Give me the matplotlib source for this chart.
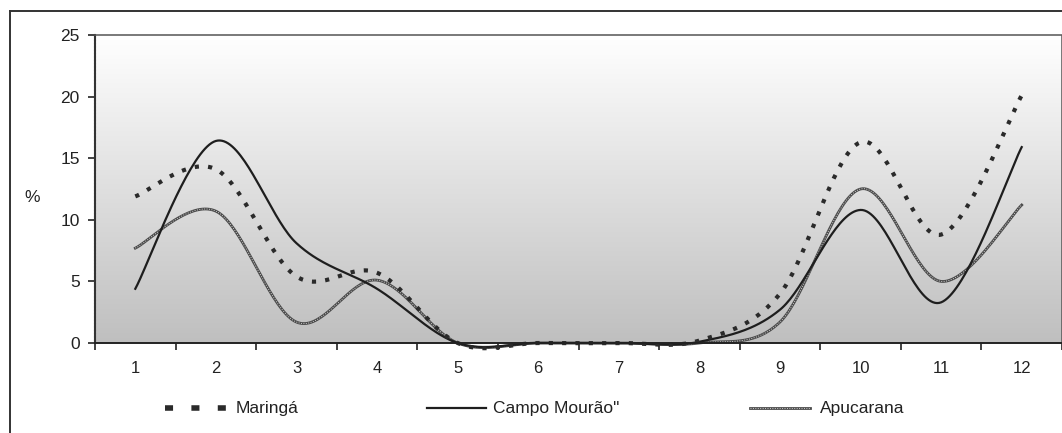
import numpy as np
import matplotlib
matplotlib.use("Agg")
import matplotlib.pyplot as plt
from matplotlib.lines import Line2D

plt.rcParams['font.family'] = ['Liberation Sans', 'DejaVu Sans']

months = [1, 2, 3, 4, 5, 6, 7, 8, 9, 10, 11, 12]
month_labels = ['1', '2', '3', '4', '5', '6', '7', '8', '9', '10', '11', '12']
maringa = [11.9, 14.1, 5.4, 5.7, 0.0, 0.0, 0.0, 0.2, 4.0, 16.3, 8.8, 20.1]
campo_mourao = [4.4, 16.4, 8.1, 4.4, 0.0, 0.0, 0.0, 0.1, 2.7, 10.8, 3.3, 15.9]
apucarana = [7.7, 10.7, 1.7, 5.1, 0.0, 0.0, 0.0, 0.0, 1.7, 12.5, 5.0, 11.2]
series_names = ['Maringá', 'Campo Mourão"', 'Apucarana']
y_ticks = [0, 5, 10, 15, 20, 25]


def smooth(x, y, n=40):
    """Catmull-Rom smoothing similar to Excel's smoothed line."""
    x = np.asarray(x, float)
    y = np.asarray(y, float)
    px = np.concatenate([[x[0]], x, [x[-1]]])
    py = np.concatenate([[y[0]], y, [y[-1]]])
    xs, ys = [], []
    t = np.linspace(0, 1, n)
    for i in range(1, len(px) - 2):
        p0x, p1x, p2x, p3x = px[i - 1], px[i], px[i + 1], px[i + 2]
        p0y, p1y, p2y, p3y = py[i - 1], py[i], py[i + 1], py[i + 2]
        c1x = p1x + (p2x - p0x) / 6
        c2x = p2x - (p3x - p1x) / 6
        c1y = p1y + (p2y - p0y) / 6
        c2y = p2y - (p3y - p1y) / 6
        bx = (1 - t) ** 3 * p1x + 3 * (1 - t) ** 2 * t * c1x + 3 * (1 - t) * t ** 2 * c2x + t ** 3 * p2x
        by = (1 - t) ** 3 * p1y + 3 * (1 - t) ** 2 * t * c1y + 3 * (1 - t) * t ** 2 * c2y + t ** 3 * p2y
        xs.append(bx)
        ys.append(by)
    return np.concatenate(xs), np.concatenate(ys)


W, H = 1062, 433
fig = plt.figure(figsize=(W / 100, H / 100), dpi=100)
fig.patch.set_facecolor('white')

L, R, T, B = 95, 1062, 35, 343
ax = fig.add_axes([L / W, 1 - B / H, (R - L) / W, (B - T) / H])
ax.set_xlim(0.5, 12.5)
ax.set_ylim(0, 25)

# gradient background
grad = np.linspace(0, 1, 256).reshape(-1, 1)
ax.imshow(grad, cmap=matplotlib.colors.LinearSegmentedColormap.from_list('g', ['#bfbfbf', '#ffffff']),
          extent=[0.5, 12.5, 0, 25], aspect='auto', origin='lower', zorder=0)

# series
mx, my = smooth(months, maringa)
ax.plot(mx, my, color='#2a2a2a', lw=3.0, dashes=(1.0, 2.2), solid_capstyle='butt',
        dash_capstyle='butt', zorder=4, clip_on=False)
cx, cy = smooth(months, campo_mourao)
ax.plot(cx, cy, color='#1e1e1e', lw=1.6, zorder=3, clip_on=False)
ax_, ay = smooth(months, apucarana)
ax.plot(ax_, ay, color='#4a4a4a', lw=2.0, zorder=2, clip_on=False)
ax.plot(ax_, ay, color='#d0d0d0', lw=0.7, dashes=(1, 1.5), zorder=2.1, clip_on=False)

# axes styling
ax.set_yticks(y_ticks)
ax.set_yticklabels([str(v) for v in y_ticks])
ax.set_xticks(np.arange(0.5, 13, 1))
ax.set_xticklabels([])
ax.set_xticks(months, minor=True)
ax.set_xticklabels(month_labels, minor=True)
ax.tick_params(axis='x', which='major', direction='out', length=5, width=1.2, color='#222')
ax.tick_params(axis='x', which='minor', length=0, pad=13, labelsize=12, labelcolor='#222')
ax.tick_params(axis='y', direction='out', length=5, width=1.2, color='#222', pad=6,
               labelsize=12.5, labelcolor='#222')

for s in ['top', 'right']:
    ax.spines[s].set_color('#555')
    ax.spines[s].set_linewidth(1.1)
    ax.spines[s].set_linestyle((0, (1, 1)))
ax.spines['left'].set_color('#333')
ax.spines['left'].set_linewidth(1.5)
ax.spines['left'].set_linestyle((0, (1, 0.6)))
ax.spines['bottom'].set_color('#222')
ax.spines['bottom'].set_linewidth(1.4)
ax.spines['bottom'].set_linestyle((0, (2, 1)))
for sp in ax.spines.values():
    sp.set_zorder(5)

# % label
fig.text(32 / W, 1 - 197 / H, '%', ha='center', va='center', fontsize=12.5, color='#222')

# outer chart border (top and left)
fig.add_artist(Line2D([10 / W, 10 / W], [0, 1 - 11 / H], color='#333', lw=1.4))
fig.add_artist(Line2D([10 / W, 1], [1 - 11 / H, 1 - 11 / H], color='#333', lw=1.4))

# legend (manual)
ly = 1 - 408 / H
fig.add_artist(Line2D([165 / W, 226 / W], [ly, ly], color='#2a2a2a', lw=4.0, dashes=(1.45, 3.3)))
fig.text(236 / W, ly, series_names[0], ha='left', va='center', fontsize=12.5, color='#222')
fig.add_artist(Line2D([427 / W, 486 / W], [ly, ly], color='#1e1e1e', lw=1.6))
fig.text(493 / W, ly, series_names[1], ha='left', va='center', fontsize=12.5, color='#222')
fig.add_artist(Line2D([750 / W, 810 / W], [ly, ly], color='#4a4a4a', lw=2.0))
fig.add_artist(Line2D([750 / W, 810 / W], [ly, ly], color='#d0d0d0', lw=0.7, dashes=(1, 1.5)))
fig.text(820 / W, ly, series_names[2], ha='left', va='center', fontsize=12.5, color='#222')

fig.savefig('out.png', dpi=100)
